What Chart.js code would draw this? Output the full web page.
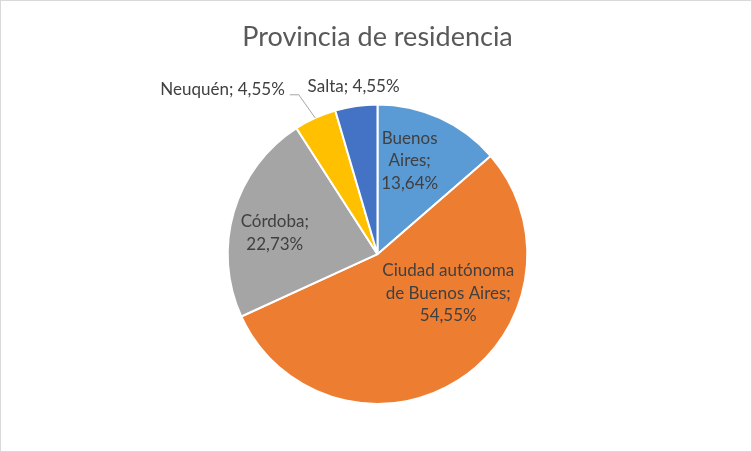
<!DOCTYPE html>
<html>
<head>
<meta charset="utf-8">
<script src="https://cdn.jsdelivr.net/npm/chart.js@4"></script>
<style>
  body { margin: 0; background: #fff; }
  #wrap { width: 752px; height: 452px; }
</style>
</head>
<body>
<div id="wrap"><canvas id="myChart" width="752" height="452"></canvas></div>
<script>
const provinces = ['Buenos Aires', 'Ciudad autónoma de Buenos Aires', 'Córdoba', 'Neuquén', 'Salta'];
const percents = [13.64, 54.55, 22.73, 4.55, 4.55];
const labelLines = [
    ['Buenos', 'Aires;', '13,64%'],
    ['Ciudad autónoma', 'de Buenos Aires;', '54,55%'],
    ['Córdoba;', '22,73%'],
    ['Neuquén; 4,55%'],
    ['Salta; 4,55%']
];
const colors = ['#5B9BD5', '#ED7D31', '#A5A5A5', '#FFC000', '#4472C4'];

// where each label sits: inside (offset from arc centre) or outside
const labelPlace = [
    { mode: 'in', dist: 0.66, angle: -71 },
    { mode: 'in', dist: 0.54, angle: 29 },
    { mode: 'in', dist: 0.70, angle: 191.6 },
    { mode: 'leader' },
    { mode: 'out' }
];

const labelFont = '17px Lato';
const labelColor = '#404040';

const pieLabels = {
    id: 'pieLabels',
    afterDatasetsDraw(chart) {
        const ctx = chart.ctx;
        const meta = chart.getDatasetMeta(0);
        ctx.save();
        ctx.font = labelFont;
        ctx.fillStyle = labelColor;
        ctx.textBaseline = 'middle';
        meta.data.forEach((arc, i) => {
            const { x, y, outerRadius, startAngle, endAngle } = arc.getProps(['x', 'y', 'outerRadius', 'startAngle', 'endAngle'], true);
            const place = labelPlace[i];
            const lines = labelLines[i];
            const lh = 22.5;
            if (place.mode === 'in') {
                const a = place.angle * Math.PI / 180;
                const cx = x + Math.cos(a) * outerRadius * place.dist;
                const cy = y + Math.sin(a) * outerRadius * place.dist;
                ctx.textAlign = 'center';
                lines.forEach((t, k) => {
                    ctx.fillText(t, cx, cy + (k - (lines.length - 1) / 2) * lh);
                });
            } else if (place.mode === 'out') {
                const mid = (startAngle + endAngle) / 2;
                const cx = x + Math.cos(mid) * (outerRadius + 18);
                const cy = y + Math.sin(mid) * (outerRadius + 18) - 2;
                ctx.textAlign = 'center';
                ctx.fillText(lines[0], cx, cy);
            } else {
                const mid = (startAngle + endAngle) / 2;
                const x0 = x + Math.cos(mid) * outerRadius;
                const y0 = y + Math.sin(mid) * outerRadius;
                const x1 = x + Math.cos(mid - 0.03) * (outerRadius + 28);
                const y1 = y + Math.sin(mid - 0.03) * (outerRadius + 28);
                ctx.strokeStyle = '#A6A6A6';
                ctx.lineWidth = 1;
                ctx.beginPath();
                ctx.moveTo(x0, y0);
                ctx.lineTo(x1, y1);
                ctx.lineTo(x1 - 9, y1);
                ctx.stroke();
                ctx.textAlign = 'right';
                ctx.fillText(lines[0], x1 - 14, y1 - 5);
            }
        });
        ctx.restore();
    }
};

const frame = {
    id: 'frame',
    beforeDraw(chart) {
        const ctx = chart.ctx;
        ctx.save();
        ctx.fillStyle = '#fff';
        ctx.fillRect(0, 0, chart.width, chart.height);
        ctx.strokeStyle = '#D9D9D9';
        ctx.lineWidth = 1;
        ctx.strokeRect(0.5, 0.5, chart.width - 1, chart.height - 1);
        ctx.restore();
    }
};

function makeChart() {
    const ctx = document.getElementById('myChart');
    new Chart(ctx, {
        type: 'pie',
        data: {
            labels: provinces,
            datasets: [{
                data: percents,
                backgroundColor: colors,
                borderColor: '#fff',
                borderWidth: 2
            }]
        },
        options: {
            responsive: false,
            animation: false,
            layout: { padding: { top: 0, bottom: 47, left: 3, right: 0 } },
            plugins: {
                legend: { display: false },
                tooltip: { enabled: false },
                title: {
                    display: true,
                    text: 'Provincia de residencia',
                    color: '#595959',
                    font: { family: 'Lato', size: 27, weight: 'normal' },
                    padding: { top: 21, bottom: 50 }
                }
            }
        },
        plugins: [frame, pieLabels]
    });
}

makeChart();
</script>
</body>
</html>
